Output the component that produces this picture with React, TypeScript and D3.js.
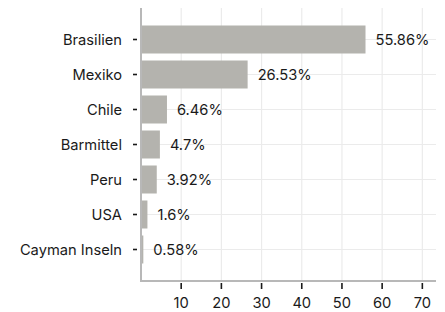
import React, { useEffect, useRef } from "react";
import * as d3 from "d3";

const countries = ["Brasilien", "Mexiko", "Chile", "Barmittel", "Peru", "USA", "Cayman Inseln"];
const shares = [55.86, 26.53, 6.46, 4.7, 3.92, 1.6, 0.58];
const xTicks = [10, 20, 30, 40, 50, 60, 70];

const App = () => {
  const ref = useRef<SVGSVGElement>(null);

  useEffect(() => {
    const width = 445;
    const height = 312;
    const margin = { top: 8, right: 9, bottom: 31, left: 141 };
    const svg = d3.select(ref.current);
    svg.selectAll("*").remove();

    const x = d3
      .scaleLinear()
      .domain([0, 73.4])
      .range([margin.left, width - margin.right]);

    const y = d3
      .scaleBand()
      .domain(countries)
      .range([margin.top, height - margin.bottom])
      .paddingInner(0.2)
      .paddingOuter(0.5);

    const font = "Inter, 'Noto Sans', sans-serif";
    const fs = 14.7;

    // grid
    svg
      .append("g")
      .selectAll("line")
      .data(xTicks)
      .enter()
      .append("line")
      .attr("x1", (d) => x(d))
      .attr("x2", (d) => x(d))
      .attr("y1", margin.top)
      .attr("y2", height - margin.bottom)
      .attr("stroke", "#ebebeb")
      .attr("stroke-width", 1.2);

    svg
      .append("g")
      .selectAll("line")
      .data(countries)
      .enter()
      .append("line")
      .attr("x1", margin.left)
      .attr("x2", width - margin.right)
      .attr("y1", (d) => (y(d) || 0) + y.bandwidth() / 2)
      .attr("y2", (d) => (y(d) || 0) + y.bandwidth() / 2)
      .attr("stroke", "#ebebeb")
      .attr("stroke-width", 1.2);

    // bars
    svg
      .append("g")
      .selectAll("rect")
      .data(countries)
      .enter()
      .append("rect")
      .attr("x", x(0))
      .attr("y", (d) => y(d) || 0)
      .attr("width", (d, i) => x(shares[i]) - x(0))
      .attr("height", y.bandwidth())
      .attr("fill", "#b4b3ae");

    // value labels
    svg
      .append("g")
      .selectAll("text")
      .data(countries)
      .enter()
      .append("text")
      .attr("x", (d, i) => x(shares[i]) + 10)
      .attr("y", (d) => (y(d) || 0) + y.bandwidth() / 2)
      .attr("dy", "0.35em")
      .attr("font-family", font)
      .attr("font-size", fs)
      .attr("fill", "#1a1a1a")
      .text((d, i) => shares[i] + "%");

    // axis lines
    svg
      .append("line")
      .attr("x1", margin.left)
      .attr("x2", margin.left)
      .attr("y1", margin.top)
      .attr("y2", height - margin.bottom + 1)
      .attr("stroke", "#b8b8b8")
      .attr("stroke-width", 2);
    svg
      .append("line")
      .attr("x1", margin.left - 1)
      .attr("x2", width - margin.right)
      .attr("y1", height - margin.bottom)
      .attr("y2", height - margin.bottom)
      .attr("stroke", "#b8b8b8")
      .attr("stroke-width", 2);

    // y ticks and labels
    const yAxis = svg.append("g");
    countries.forEach((c) => {
      const cy = (y(c) || 0) + y.bandwidth() / 2;
      yAxis
        .append("line")
        .attr("x1", margin.left - 8)
        .attr("x2", margin.left - 4)
        .attr("y1", cy)
        .attr("y2", cy)
        .attr("stroke", "#1a1a1a")
        .attr("stroke-width", 1.6);
      yAxis
        .append("text")
        .attr("x", margin.left - 19)
        .attr("y", cy)
        .attr("dy", "0.35em")
        .attr("text-anchor", "end")
        .attr("font-family", font)
        .attr("font-size", fs)
        .attr("fill", "#1a1a1a")
        .text(c);
    });

    // x ticks and labels
    const xAxis = svg.append("g");
    xTicks.forEach((t) => {
      xAxis
        .append("line")
        .attr("x1", x(t))
        .attr("x2", x(t))
        .attr("y1", height - margin.bottom + 2)
        .attr("y2", height - margin.bottom + 8)
        .attr("stroke", "#1a1a1a")
        .attr("stroke-width", 1.6);
      xAxis
        .append("text")
        .attr("x", x(t))
        .attr("y", height - margin.bottom + 22)
        .attr("dy", "0.35em")
        .attr("text-anchor", "middle")
        .attr("font-family", font)
        .attr("font-size", fs)
        .attr("fill", "#1a1a1a")
        .text(t);
    });
  }, []);

  return (
    <svg
      ref={ref}
      width={445}
      height={312}
      style={{ position: "absolute", left: 0, top: 0, background: "#fff" }}
    />
  );
};

export default App;
